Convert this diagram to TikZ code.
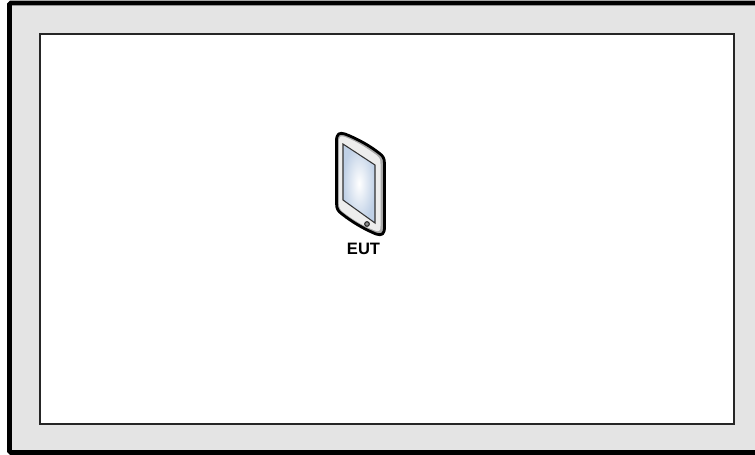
\documentclass[tikz,border=0pt]{standalone}
\usepackage{fontspec}
\setmainfont{Liberation Sans}
\definecolor{framegray}{HTML}{E4E4E4}
\definecolor{bodygray}{HTML}{EDEDED}
\definecolor{bevelgray}{HTML}{A8A8A8}
\definecolor{screenedge}{HTML}{BFD0E6}
\tikzset{x=0.75pt,y=-0.75pt,
  outerframe/.style={draw=black,line width=3.4pt,fill=framegray,rounded corners=1pt},
  innerframe/.style={draw=black!85,line width=1pt,fill=white},
  devicebody/.style={draw=black,line width=2.1pt,fill=bevelgray,line join=round},
  devicefront/.style={fill=bodygray},
  devicescreen/.style={draw=black!80,line width=.8pt,inner color=white,outer color=screenedge},
  label/.style={font=\fontsize{12.4}{14}\bfseries,text=black,inner sep=0pt}}
\begin{document}
\begin{tikzpicture}
\useasboundingbox (0,0) rectangle (755,454);
\clip (0,0) rectangle (755,454);
\draw[outerframe] (9.5,3) rectangle (760,452.5);
\draw[innerframe] (40,34) rectangle (734,424);
\draw[devicebody] (336.5,141) .. controls (336.5,134) and (339,132) .. (345,134)
  .. controls (358,139) and (370,146) .. (379,153) .. controls (383,156) and (384.5,158) .. (384.5,164)
  -- (384.5,227) .. controls (384.5,234) and (382,236) .. (376,234)
  .. controls (364,229) and (352,222) .. (342,214) .. controls (338,211) and (336.5,209) .. (336.5,203) -- cycle;
\fill[devicefront] (339,141) .. controls (339,136) and (341,135.5) .. (345,137)
  .. controls (358,142) and (368,149) .. (377,155.5) .. controls (380,158) and (380.5,160) .. (380.5,164)
  -- (380.5,226) .. controls (380.5,231) and (379,232) .. (375,230.5)
  .. controls (363,226) and (352,219) .. (343,212) .. controls (340,209.5) and (339,208) .. (339,203) -- cycle;
\draw[devicescreen] (343,144) -- (375,165) -- (375,223) -- (343,200) -- cycle;
\node[circle,draw=black!85,fill=black!45,line width=.8pt,minimum size=3.5pt,inner sep=0pt] (homekey) at (367,224) {};
\node[label] (eut) at (363.5,249) {EUT};
\end{tikzpicture}
\end{document}
